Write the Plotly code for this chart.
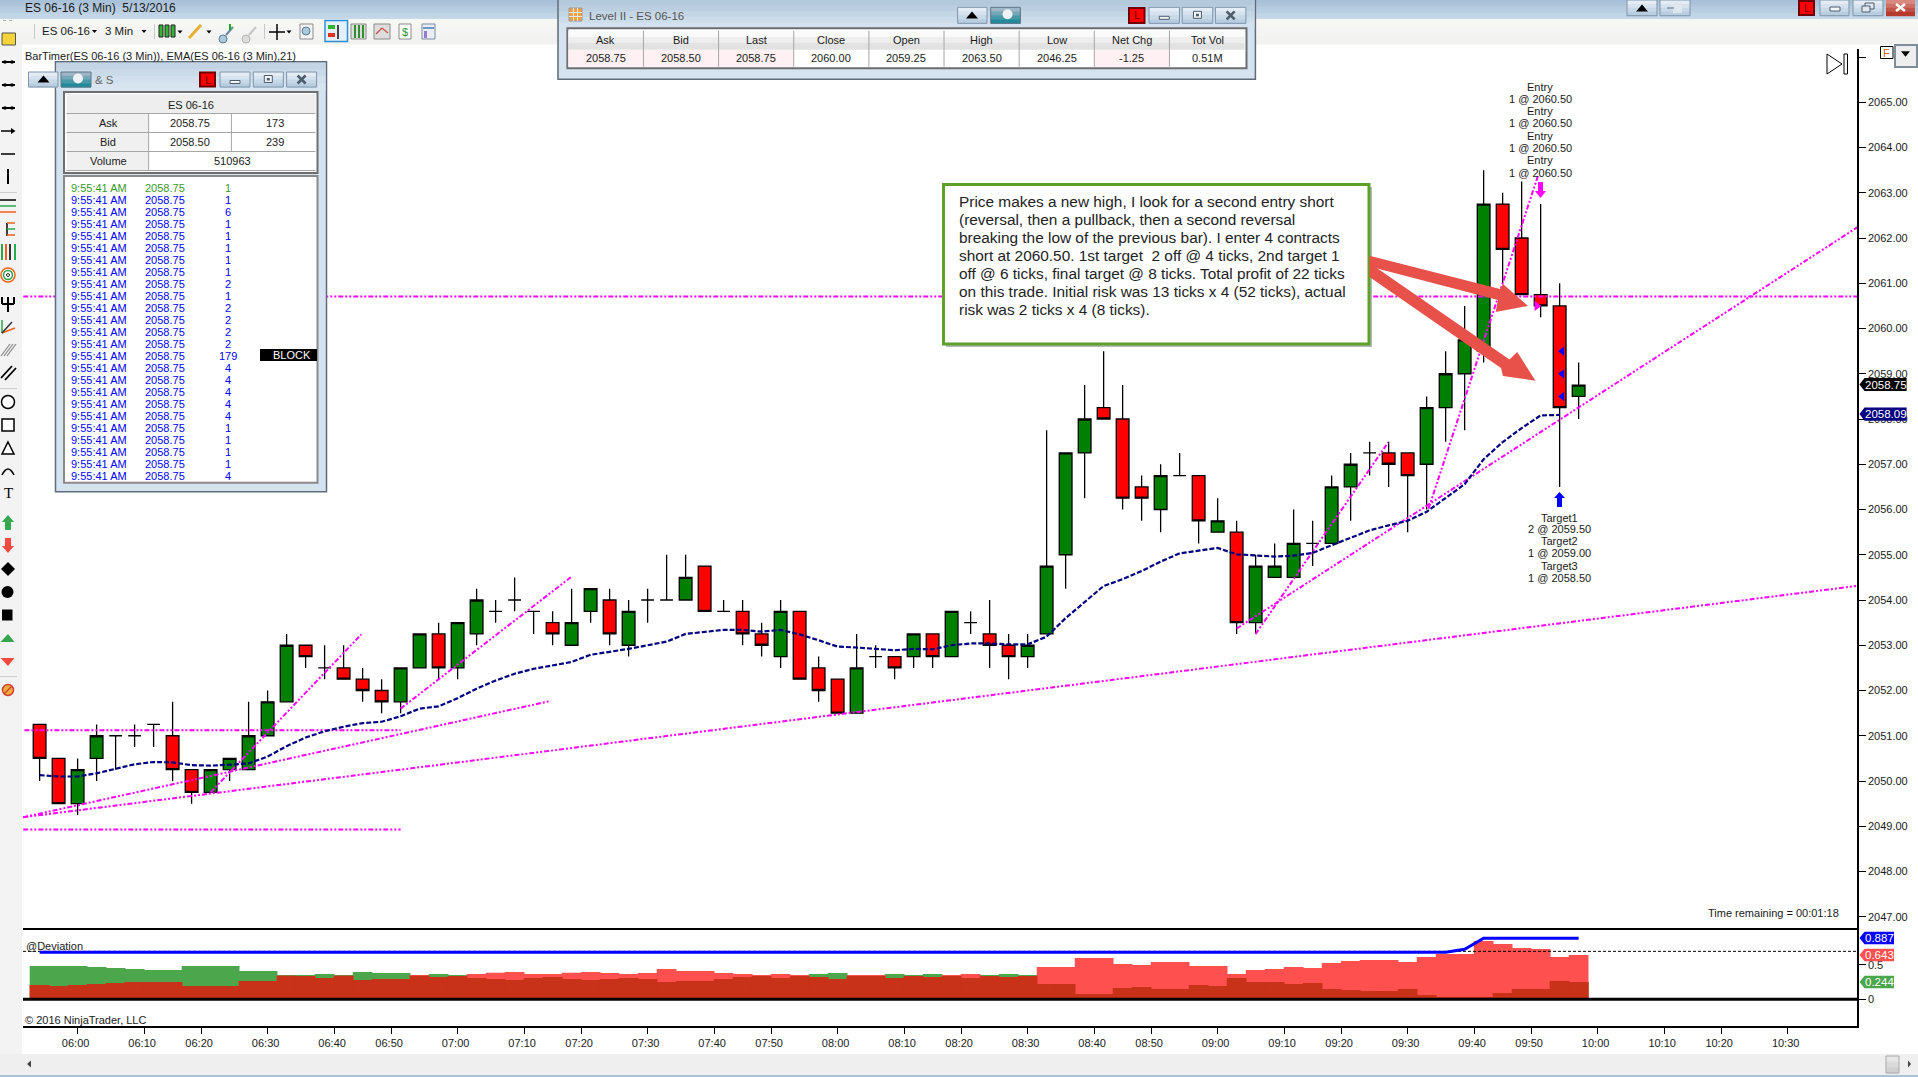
import numpy as np
import plotly.graph_objects as go
from plotly.subplots import make_subplots

W, H = 1918, 1077
FONT = "Liberation Sans"

# --------------------------
# Chart data (one entry per 3 min bar, first bar is 05:54)
# --------------------------
opens = [2051.25, 2050.5, 2049.5, 2050.5, 2051, 2051, 2051.25, 2051, 2050.25, 2049.75,
         2050.25, 2050.25, 2051, 2051.75, 2053, 2052.5, 2052.5, 2052.25, 2052, 2051.75,
         2052.5, 2053.25, 2052.5, 2053.25, 2053.75, 2054, 2053.75, 2053.5, 2053, 2053.75,
         2054, 2053, 2054, 2054, 2054, 2054.75, 2053.75, 2053.75, 2053.25, 2052.75,
         2053.75, 2052.5, 2052.25, 2051.5, 2052.75, 2052.75, 2052.75, 2053.25, 2052.75, 2053.5,
         2053.25, 2053, 2052.75, 2053.25, 2055, 2057.25, 2058.25, 2058, 2056.5, 2056,
         2056.75, 2056.75, 2055.5, 2055.5, 2053.5, 2054.5, 2054.5, 2055.25, 2055.25, 2056.5,
         2057.25, 2057.25, 2057.25, 2057, 2058.25, 2059, 2059.5, 2062.75, 2062, 2060.75,
         2060.5, 2058.5]
highs = [2051.25, 2050.5, 2050.5, 2051.25, 2051, 2051.25, 2051.25, 2051.75, 2050.25, 2050.25,
         2050.5, 2051.75, 2052, 2053.25, 2053, 2053, 2053, 2052.5, 2052.25, 2052.5,
         2053.25, 2053.5, 2053.5, 2054.25, 2054, 2054.5, 2053.75, 2053.75, 2054.25, 2054.25,
         2054.25, 2054, 2054.25, 2055, 2055, 2054.75, 2054, 2054, 2053.5, 2054,
         2053.75, 2052.75, 2052.25, 2053.25, 2053, 2052.75, 2053.25, 2053.25, 2053.75, 2053.75,
         2054, 2053.25, 2053.25, 2057.75, 2057.25, 2058.75, 2059.5, 2058.75, 2056.75, 2057,
         2057.25, 2056.75, 2056.25, 2055.75, 2055, 2055.25, 2056, 2055.75, 2056.75, 2057.25,
         2057.5, 2057.5, 2057.25, 2058.5, 2059.5, 2060.5, 2063.5, 2063, 2063.25, 2062.75,
         2061, 2059.25]
lows = [2050, 2049.5, 2049.25, 2050, 2050.25, 2050.75, 2050.75, 2050, 2049.5, 2049.75,
        2050, 2050.25, 2051, 2051.75, 2052.5, 2052.25, 2052.25, 2051.75, 2051.5, 2051.5,
        2052.5, 2052.25, 2052.25, 2053, 2053.5, 2053.75, 2053.25, 2053, 2053, 2053.5,
        2053, 2052.75, 2053.5, 2054, 2054, 2053.75, 2053.75, 2053, 2052.75, 2052.5,
        2052.25, 2051.75, 2051.5, 2051.5, 2052.5, 2052.25, 2052.5, 2052.5, 2052.75, 2053.25,
        2052.5, 2052.25, 2052.5, 2053.25, 2054.25, 2056.25, 2058, 2056, 2055.75, 2055.5,
        2056.75, 2055.25, 2055.5, 2053.25, 2053.25, 2054.5, 2054.5, 2054.75, 2055.25, 2055.75,
        2056.75, 2056.5, 2055.5, 2056, 2057.5, 2057.75, 2059.25, 2061, 2060.75, 2060.25,
        2056.5, 2058]
closes = [2050.5, 2049.5, 2050.25, 2051, 2051, 2051, 2051.25, 2050.25, 2049.75, 2050.25,
          2050.5, 2051, 2051.75, 2053, 2052.75, 2052.5, 2052.25, 2052, 2051.75, 2052.5,
          2053.25, 2052.5, 2053.5, 2054, 2053.75, 2054, 2053.75, 2053.25, 2053.5, 2054.25,
          2053.25, 2053.75, 2054, 2054, 2054.5, 2053.75, 2053.75, 2053.25, 2053, 2053.75,
          2052.25, 2052, 2051.5, 2052.5, 2052.75, 2052.5, 2053.25, 2052.75, 2053.75, 2053.5,
          2053, 2052.75, 2053, 2054.75, 2057.25, 2058, 2058, 2056.25, 2056.25, 2056.75,
          2056.75, 2055.75, 2055.75, 2053.5, 2054.75, 2054.75, 2055.25, 2055.25, 2056.5, 2057,
          2057.25, 2057, 2056.75, 2058.25, 2059, 2059.75, 2062.75, 2061.75, 2060.75, 2060.5,
          2058.25, 2058.75]
ema21 = [2050.13, 2050.1, 2050.1, 2050.17, 2050.27, 2050.37, 2050.42, 2050.41, 2050.35, 2050.34,
         2050.36, 2050.39, 2050.54, 2050.77, 2050.96, 2051.1, 2051.2, 2051.28, 2051.31, 2051.43,
         2051.6, 2051.65, 2051.83, 2052.04, 2052.22, 2052.37, 2052.48, 2052.55, 2052.63, 2052.79,
         2052.85, 2052.92, 2053.0, 2053.08, 2053.25, 2053.3, 2053.34, 2053.34, 2053.3, 2053.34,
         2053.24, 2053.11, 2052.97, 2052.95, 2052.92, 2052.89, 2052.92, 2052.91, 2053.0, 2053.04,
         2053.04, 2053.02, 2053.02, 2053.19, 2053.6, 2053.96, 2054.31, 2054.46, 2054.64, 2054.85,
         2055.03, 2055.09, 2055.15, 2055.01, 2054.99, 2054.96, 2054.98, 2055.04, 2055.21, 2055.37,
         2055.54, 2055.65, 2055.75, 2055.95, 2056.26, 2056.56, 2057.11, 2057.49, 2057.8, 2058.08,
         2058.09]

dev_green = [.484, .484, .484, .469, .455, .44, .426, .426, .484, .484,
             .484, .411, .411, .353, .353, .368, .353, .397, .382, .382,
             .344, .368, .353, .31, .295, .28, .31, .324, .295, .28,
             .295, .31, .295, .251, .266, .266, .295, .324, .339, .31,
             .339, .368, .382, .339, .339, .368, .353, .368, .339, .31,
             .353, .368, .353, .222, .222, .077, .077, .164, .179, .15,
             .15, .208, .193, .31, .251, .251, .222, .237, .15, .135,
             .121, .121, .15, .063, .033, .033, .033, .092, .15, .15,
             .266, .251]
dev_red = [.208, .193, .208, .222, .237, .251, .251, .251, .193, .193,
           .193, .266, .266, .344, .339, .31, .344, .28, .295, .295,
           .353, .324, .339, .368, .387, .397, .368, .368, .387, .397,
           .382, .368, .382, .44, .411, .411, .382, .368, .353, .368,
           .353, .324, .295, .353, .353, .31, .339, .324, .353, .368,
           .339, .324, .339, .47, .47, .6, .6, .513, .499, .542,
           .542, .484, .484, .368, .426, .44, .47, .455, .528, .557,
           .571, .571, .542, .615, .658, .658, .847, .804, .746, .731,
           .615, .644]
dev_line = [.683] * 75 + [.727] + [.887] * 6

tick_labels = ["06:00", "06:10", "06:20", "06:30", "06:40", "06:50", "07:00", "07:10", "07:20", "07:30",
               "07:40", "07:50", "08:00", "08:10", "08:20", "08:30", "08:40", "08:50", "09:00", "09:10",
               "09:20", "09:30", "09:40", "09:50", "10:00", "10:10", "10:20", "10:30"]
tick_bars = [2, 5.5, 8.5, 12, 15.5, 18.5, 22, 25.5, 28.5, 32,
             35.5, 38.5, 42, 45.5, 48.5, 52, 55.5, 58.5, 62, 65.5,
             68.5, 72, 75.5, 78.5, 82, 85.5, 88.5, 92]
price_ticks = list(range(2047, 2067))

# drawn trend lines: (bar, price) -> (bar, price)
draw_lines = [
    ((-0.86, 2060.71), (95.65, 2060.71)),
    ((-0.8, 2051.12), (19, 2051.12)),
    ((-0.86, 2048.93), (19, 2048.93)),
    ((-0.86, 2049.2), (95.6, 2054.31)),
    ((-0.86, 2049.2), (26.9, 2051.77)),
    ((9, 2049.75), (16.93, 2053.24)),
    ((19, 2051.6), (27.95, 2054.5)),
    ((63, 2053.37), (95.68, 2062.24)),
    ((64, 2053.25), (70.97, 2057.48)),
    ((73.1, 2056.02), (78.88, 2063.4)),
]
entry_labels = ["Entry", "1 @ 2060.50"] * 4
target_labels = ["Target1", "2 @ 2059.50", "Target2", "1 @ 2059.00", "Target3", "1 @ 2058.50"]
target_prices = [2059.5, 2059.0, 2058.5]

callout_lines = [
    "Price makes a new high, I look for a second entry short",
    "(reversal, then a pullback, then a second reversal",
    "breaking the low of the previous bar). I enter 4 contracts",
    "short at 2060.50. 1st target  2 off @ 4 ticks, 2nd target 1",
    "off @ 6 ticks, final target @ 8 ticks. Total profit of 22 ticks",
    "on this trade. Initial risk was 13 ticks x 4 (52 ticks), actual",
    "risk was 2 ticks x 4 (8 ticks).",
]

level2_heads = ["Ask", "Bid", "Last", "Close", "Open", "High", "Low", "Net Chg", "Tot Vol"]
level2_vals = ["2058.75", "2058.50", "2058.75", "2060.00", "2059.25", "2063.50", "2046.25", "-1.25", "0.51M"]
level2_pink = [True, True, True, False, False, False, False, True, False]

ts_qty = [1, 1, 6, 1, 1, 1, 1, 1, 2, 1, 2, 2, 2, 2, 179, 4, 4, 4, 4, 4, 1, 1, 1, 1, 4]

# --------------------------
# Helpers for the window chrome, all in screen pixels
# --------------------------
shapes = []
notes = []


def rect(x0, y0, x1, y1, fill, line=None, lw=1):
    shapes.append(dict(type="rect", xref="paper", yref="paper", layer="above",
                       x0=x0 / W, x1=x1 / W, y0=1 - y0 / H, y1=1 - y1 / H, fillcolor=fill,
                       line=dict(color=line or fill, width=lw if line else 0)))


def seg(x0, y0, x1, y1, color="black", lw=1, dash=None):
    shapes.append(dict(type="line", xref="paper", yref="paper", layer="above",
                       x0=x0 / W, x1=x1 / W, y0=1 - y0 / H, y1=1 - y1 / H,
                       line=dict(color=color, width=lw, dash=dash)))


def poly(points, fill, line=None, lw=1):
    path = "M" + " L".join(f"{x / W:.5f},{1 - y / H:.5f}" for x, y in points) + " Z"
    shapes.append(dict(type="path", xref="paper", yref="paper", layer="above", path=path,
                       fillcolor=fill, line=dict(color=line or fill, width=lw if line else 0)))


def circle(cx, cy, r, fill, line=None, lw=1):
    shapes.append(dict(type="circle", xref="paper", yref="paper", layer="above",
                       x0=(cx - r) / W, x1=(cx + r) / W, y0=1 - (cy - r) / H, y1=1 - (cy + r) / H,
                       fillcolor=fill, line=dict(color=line or fill, width=lw if line else 0)))


def text(s, x, y, size=11, color="#1a1a1a", anchor="left", font=FONT):
    notes.append(dict(text=s, xref="paper", yref="paper", x=x / W, y=1 - y / H, showarrow=False,
                      xanchor=anchor, yanchor="middle", borderpad=0, borderwidth=0,
                      font=dict(family=font, size=size, color=color)))


def mix(c0, c1, t):
    a = [int(c0[i:i + 2], 16) for i in (1, 3, 5)]
    b = [int(c1[i:i + 2], 16) for i in (1, 3, 5)]
    return "#" + "".join(f"{round(p + (q - p) * t):02x}" for p, q in zip(a, b))


def grad(x0, y0, x1, y1, c0, c1, steps=6):
    for i in range(steps):
        rect(x0, y0 + (y1 - y0) * i / steps, x1, y0 + (y1 - y0) * (i + 1) / steps + 0.5,
             mix(c0, c1, i / max(steps - 1, 1)))


def button(x0, y0, x1, y1):
    grad(x0, y0, x1, y1, "#e4edf5", "#b9cde0", 4)
    rect(x0, y0, x1, y1, "rgba(0,0,0,0)", "#7f95ac", 1)


def tri_up(cx, cy, s, color="black"):
    poly([(cx - s, cy + s * 0.6), (cx + s, cy + s * 0.6), (cx, cy - s * 0.6)], color)


def tri_down(cx, cy, s, color="black"):
    poly([(cx - s, cy - s * 0.6), (cx + s, cy - s * 0.6), (cx, cy + s * 0.6)], color)


def pin(x0, y0, x1, y1):
    grad(x0, y0, x1, y1, "#9fb6c6", "#1f8a9a", 4)
    rect(x0, y0, x1, y1, "rgba(0,0,0,0)", "#5f7688", 1)
    circle((x0 + x1) / 2 + 2, (y0 + y1) / 2 - 1, 5, "#eef2f4")


def lamp(x0, y0, x1, y1):
    rect(x0, y0, x1, y1, "#ff0000", "#700000", 2)
    text("L", (x0 + x1) / 2, (y0 + y1) / 2, 11, "#700000", "center")


def win_buttons(x0, y0, x1, y1, step_w, gap):
    for i, mark in enumerate(["min", "max", "close"]):
        bx = x0 + i * (step_w + gap)
        button(bx, y0, bx + step_w, y1)
        cx, cy = bx + step_w / 2, (y0 + y1) / 2
        if mark == "min":
            rect(cx - 5, cy + 1, cx + 5, cy + 4, "#f3f6f9", "#4e5d6c", 1)
        elif mark == "max":
            rect(cx - 4, cy - 4, cx + 4, cy + 3, "#f3f6f9", "#4e5d6c", 1)
            rect(cx - 1.5, cy - 1.5, cx + 1.5, cy + 1, "#4e5d6c")
        else:
            seg(cx - 4, cy - 4, cx + 4, cy + 4, "#4e5d6c", 2.5)
            seg(cx - 4, cy + 4, cx + 4, cy - 4, "#4e5d6c", 2.5)


# --------------------------
# Chart
# --------------------------
bars = list(range(len(opens)))
x_range = [-0.874, 95.65]

fig = make_subplots(rows=2, cols=1, shared_xaxes=True, vertical_spacing=0)

fig.add_trace(go.Candlestick(x=bars, open=opens, high=highs, low=lows, close=closes,
                             increasing=dict(fillcolor="#008000", line=dict(color="black", width=1.3)),
                             decreasing=dict(fillcolor="#ff0000", line=dict(color="black", width=1.3)),
                             whiskerwidth=0), row=1, col=1)

for (x0, y0), (x1, y1) in draw_lines:
    fig.add_trace(go.Scatter(x=[x0, x1], y=[y0, y1], mode="lines",
                             line=dict(color="#ff00ff", width=2, dash="5px,2px,2px,2px,2px,2px")),
                  row=1, col=1)

fig.add_trace(go.Scatter(x=bars[:len(ema21)], y=ema21, mode="lines",
                         line=dict(color="#000080", width=2.2, dash="5px,2px")), row=1, col=1)

fig.add_trace(go.Scatter(x=[80.13] * 3, y=target_prices, mode="markers",
                         marker=dict(symbol="triangle-left", size=8, color="#0000ff")), row=1, col=1)
fig.add_trace(go.Scatter(x=[78.8], y=[2060.5], mode="markers",
                         marker=dict(symbol="triangle-right", size=9, color="#ff00ff")), row=1, col=1)

# deviation pane: overlap of the two series shows as dark red
dev_overlap = np.minimum(dev_green, dev_red)
for values, color in [(dev_green, "#4ca64c"), (dev_red, "#ff5050"), (dev_overlap, "#c83218")]:
    fig.add_trace(go.Bar(x=bars, y=values, width=1.04, marker=dict(color=color, line=dict(width=0))),
                  row=2, col=1)
fig.add_trace(go.Scatter(x=[x_range[0], x_range[1]], y=[.697, .697], mode="lines",
                         line=dict(color="black", width=1, dash="3px,2px")), row=2, col=1)
fig.add_trace(go.Scatter(x=bars, y=dev_line, mode="lines",
                         line=dict(color="#0000ff", width=3)), row=2, col=1)

X_DOM = [23 / W, 1857 / W]
fig.update_xaxes(range=x_range, domain=X_DOM, rangeslider_visible=False, showgrid=False, zeroline=False)
fig.update_xaxes(showline=True, linecolor="black", linewidth=1.5, showticklabels=False, ticks="", row=1, col=1)
fig.update_xaxes(showline=True, linecolor="black", linewidth=1.5, ticks="outside", ticklen=6, tickwidth=1,
                 tickcolor="black", tickmode="array", tickvals=tick_bars, ticktext=tick_labels,
                 ticklabelshift=-2, tickfont=dict(family=FONT, size=11, color="#1a1a1a"), row=2, col=1)

price_text = [f"{p}.00" if p != 2066 else "" for p in price_ticks]
fig.update_yaxes(side="right", showgrid=False, zeroline=False, showline=True, linecolor="black", linewidth=1.5,
                 ticks="outside", ticklen=7, tickwidth=1, tickcolor="black",
                 tickfont=dict(family=FONT, size=11, color="#1a1a1a"))
fig.update_yaxes(domain=[1 - 928.3 / H, 1 - 49 / H], range=[2046.745, 2066.177], tickmode="array",
                 tickvals=price_ticks, ticktext=price_text, row=1, col=1)
fig.update_yaxes(domain=[1 - 1026 / H, 1 - 928.3 / H], range=[-0.388, 1.032], tickmode="array",
                 tickvals=[0, 0.5], ticktext=["0", "0.5"], row=2, col=1)

# zero line of the deviation pane
shapes.append(dict(type="line", xref="paper", yref="y2", layer="above", x0=X_DOM[0], x1=X_DOM[1], y0=0, y1=0,
                   line=dict(color="black", width=3)))

# --------------------------
# Chart texts and price markers
# --------------------------
text("BarTimer(ES 06-16 (3 Min)), EMA(ES 06-16 (3 Min),21)", 25, 56)
text("@Deviation", 25.5, 946)
text("© 2016 NinjaTrader, LLC", 25, 1020)
text("Time remaining = 00:01:18", 1708, 913)
for i, s in enumerate(entry_labels):
    text(s, 1540.4, [87, 99, 111, 123, 136, 148, 160, 173][i], 11, "#1a1a1a", "center")
for i, s in enumerate(target_labels):
    text(s, 1559.5, [517.5, 529, 541.4, 553, 566.4, 578][i], 11, "#1a1a1a", "center")

poly([(1538, 182), (1543, 182), (1543, 191), (1546, 191), (1540.5, 198), (1535, 191), (1538, 191)], "#ff00ff")
poly([(1557, 507), (1562, 507), (1562, 498), (1565, 498), (1559.5, 492), (1554, 498), (1557, 498)], "#0000ff")

for label, y0, y1, fill, x1, size in [("2058.75", 378, 391, "#000000", 1906.6, 11.5),
                                      ("2058.09", 407.5, 420.7, "#000080", 1906.6, 11.5),
                                      ("0.887", 931.7, 944.3, "#0000ff", 1894, 11.5),
                                      ("0.643", 948.7, 961.3, "#ff5050", 1894, 11.5),
                                      ("0.244", 975.7, 988.3, "#4ca64c", 1894, 11.5)]:
    ym = (y0 + y1) / 2
    poly([(1859.5, ym), (1864.5, y0), (x1, y0), (x1, y1), (1864.5, y1)], fill)
    text(label, (1865 + x1) / 2, ym, size, "white", "center")

# callout with arrows
rect(946, 187, 1372, 347, "#b8b8b8")
rect(943.5, 184.5, 1369, 344, "white", "#5fa02a", 3)
for i, s in enumerate(callout_lines):
    text(s, 959, 201.7 + 18 * i, 15.4, "#222222")
poly([(1369.5, 255.7), (1500, 289), (1503, 284), (1528, 306), (1495.6, 312), (1498, 300), (1369.5, 266.4)], "#e8504a")
poly([(1369.5, 263), (1509.5, 359.5), (1517.2, 352), (1535.5, 380.7), (1503, 376), (1501, 368), (1369.5, 277)], "#e8504a")

# --------------------------
# Main window frame
# --------------------------
grad(0, 0, W, 19, "#a8c0d8", "#c4d8e8", 8)
grad(0, 19, W, 44, "#f6f6f3", "#f2f2f0", 3)
rect(0, 44, 22, 1054, "#f3f3f3")
rect(0, 1054, W, 1075, "#efefef")
rect(0, 1075, W, H, "#a9c1d6")
text("ES 06-16 (3 Min)  5/13/2016", 24.5, 8, 12)

# top right buttons
button(1627, 0, 1657, 15.7)
tri_up(1642, 8, 6)
button(1660, 0, 1690, 15.7)
rect(1673, 2, 1682, 13, "#dfe7ee")
seg(1667, 8, 1674, 8, "#7f95ac", 1.5)
lamp(1799, 1, 1814, 15)
button(1820, 0, 1849, 15.7)
rect(1830, 7, 1840, 11, "#f3f6f9", "#4e5d6c", 1)
button(1853, 0, 1883, 15.7)
rect(1865, 3, 1874, 9, "#dfe7ee", "#4e5d6c", 1)
rect(1862, 6, 1870, 12, "#dfe7ee", "#4e5d6c", 1)
grad(1886, 0, 1915, 15.7, "#d98a80", "#b5392c", 4)
seg(1896, 4, 1905, 11, "white", 2.5)
seg(1896, 11, 1905, 4, "white", 2.5)

# chart corner controls
poly([(1827, 54), (1842, 64), (1827, 74)], "white", "black", 1)
rect(1844, 54, 1847.5, 74, "white", "black", 1)
rect(1880.5, 46.5, 1893, 58.5, "white", "black", 1)
text("F", 1886.5, 52.5, 11, "#c96a1a", "center")
rect(1895, 45, 1917, 67, "#eeeeee", "#7f8c99", 2)
tri_down(1905.5, 54, 4.5)

# top toolbar
text("ES 06-16", 42, 30.7, 11.5)
tri_down(94.5, 31.5, 2.5)
text("3 Min", 105, 30.7, 11.5)
tri_down(144, 31.5, 2.5)
seg(34.5, 24, 34.5, 39, "#c8c8c8", 1)
seg(154.5, 24, 154.5, 39, "#c8c8c8", 1)
seg(264.5, 24, 264.5, 39, "#c8c8c8", 1)
for cx in (161, 167, 173):
    rect(cx - 2, 25, cx + 2, 37, "#33b533", "#222222", 1)
tri_down(180, 32, 2.5)
seg(189, 38, 201, 25, "#e8b030", 3)
tri_down(209, 32, 2.5)
circle(223, 39, 4, "#a9c9dc", "#5a7f99", 1)
seg(226, 35, 233, 27, "#6a8ba3", 2)
seg(230, 24, 230, 30, "#22aa22", 2)
circle(246, 39, 4, "#dddddd", "#b5b5b5", 1)
seg(249, 35, 256, 27, "#c5c5c5", 2)
seg(277, 24, 277, 40, "black", 1.5)
seg(269, 32, 285, 32, "black", 1.5)
tri_down(289, 32, 2.5)
rect(300, 24, 313, 39, "#f4f4f4", "#8a8a8a", 1)
circle(306, 31, 4, "#a9c9dc", "#5a7f99", 1)
rect(325, 20.5, 347.5, 41.5, "#e2f0fb", "#2f8fd6", 1.5)
rect(328, 25, 335, 29, "#33b533")
rect(328, 33, 335, 37, "#e03020")
seg(338, 25, 338, 39, "#444444", 2)
rect(351, 24, 366, 39, "#dddddd", "#8a8a8a", 1)
for cx in (355, 359, 363):
    seg(cx, 25, cx, 38, "#2f8f2f", 2)
rect(374, 24, 390, 39, "#dddddd", "#8a8a8a", 1)
seg(376, 34, 382, 28, "#d05040", 1.2)
seg(382, 28, 388, 33, "#d05040", 1.2)
rect(399, 24, 411, 39, "white", "#8a8a8a", 1)
text("$", 405, 31.5, 11, "#2f8f2f", "center")
rect(422, 24, 435, 39, "#e9eef5", "#7a8aa5", 1)
rect(423, 27, 434, 29, "#6a9ac5")
rect(424, 31, 427, 38, "#9a7ad0")

# left drawing tools
seg(3, 20.5, 14, 20.5, "#aaaaaa", 1, "dot")
rect(2, 33, 15.5, 45, "#f5d33b", "#555555", 1)
for y in (62, 85, 108):
    seg(2, y, 15, y, "black", 2)
    circle(5, y, 1.8, "black")
    circle(12, y, 1.8, "black")
seg(1, 131, 14, 131, "black", 1.5)
poly([(11, 128), (15.5, 131), (11, 134)], "black")
seg(1, 154, 15, 154, "black", 1.5)
seg(8, 169, 8, 184, "black", 2)
seg(0, 192.5, 17, 192.5, "#cccccc", 1)
seg(0, 200, 16, 200, "black", 1.5)
seg(0, 206, 16, 206, "#2aa84a", 1.5)
seg(0, 212, 16, 212, "#f06020", 1.5)
seg(7, 223, 7, 236, "black", 1.5)
seg(7, 223, 15, 223, "#f06020", 1.5)
seg(7, 229, 15, 229, "#2aa84a", 1.5)
seg(7, 235, 15, 235, "#f06020", 1.5)
for cx, c in [(2, "#2aa84a"), (6, "#f06020"), (10, "#333333"), (15, "#2aa84a")]:
    seg(cx, 244, cx, 260, c, 2)
circle(8, 275, 7, "white", "#f06020", 1.5)
circle(8, 275, 4.5, "white", "#2aa84a", 1.5)
circle(8, 275, 1.5, "white", "#333333", 1)
seg(8, 297, 8, 312, "black", 2)
seg(2, 297, 2, 304, "black", 2)
seg(14, 297, 14, 304, "black", 2)
seg(2, 304, 14, 304, "black", 2)
seg(2, 320, 2, 333, "#2aa84a", 1.5)
seg(2, 333, 15, 328, "#f06020", 1.5)
seg(2, 333, 12, 322, "#333333", 1.5)
for d in (0, 3, 6):
    seg(1 + d, 356, 10 + d, 344, "#888888", 1.2)
seg(1, 378, 12, 366, "black", 1.8)
seg(5, 380, 16, 368, "black", 1.8)
seg(0, 388.5, 17, 388.5, "#cccccc", 1)
circle(8, 402, 6.5, "white", "black", 1.5)
rect(2, 419, 14, 431, "white", "black", 1.5)
poly([(8, 442), (14, 454), (2, 454)], "white", "black", 1.5)
shapes.append(dict(type="path", xref="paper", yref="paper", layer="above",
                   path=f"M{2 / W:.5f},{1 - 475 / H:.5f} Q{8 / W:.5f},{1 - 463 / H:.5f} {14 / W:.5f},{1 - 475 / H:.5f}",
                   line=dict(color="black", width=1.5)))
text("T", 8, 493, 15, "black", "center", "Liberation Serif")
poly([(8, 515), (14, 522), (11, 522), (11, 530), (5, 530), (5, 522), (2, 522)], "#35a84f")
poly([(8, 553), (14, 546), (11, 546), (11, 538), (5, 538), (5, 546), (2, 546)], "#ee4a40")
poly([(8, 562), (15, 569), (8, 576), (1, 569)], "black")
circle(7.5, 592, 6, "black")
rect(2, 609.5, 12.5, 620.5, "black")
poly([(8, 634), (14.5, 642), (0.5, 642)], "#35a84f")
poly([(0.5, 658), (14.5, 658), (8, 666)], "#ee4a40")
seg(0, 676.5, 17, 676.5, "#cccccc", 1)
circle(8, 690, 5.5, "#f0b040", "#d04030", 1.5)
seg(4, 694, 12, 686, "#d04030", 1.5)

# bottom scrollbar
poly([(27, 1064), (31, 1060.5), (31, 1067.5)], "#444444")
grad(1886, 1056, 1899, 1073, "#e6e6e6", "#cfcfcf", 3)
rect(1886, 1056, 1899, 1073, "rgba(0,0,0,0)", "#aaaaaa", 1)
poly([(1911, 1064), (1908, 1060.5), (1908, 1067.5)], "#444444")

# --------------------------
# Time & Sales window
# --------------------------
rect(55.5, 61.7, 326.5, 491.7, "#d5e3f0", "#5f6b78", 1.5)
grad(56.5, 62.7, 325.5, 90, "#c3d5e5", "#d8e5f0", 4)
button(28.5, 72, 58, 87)
tri_up(43.5, 79, 6)
pin(61, 72, 91, 87)
text("& S", 95, 79.5, 11.5, "#666666")
lamp(200, 72.5, 215, 86.5)
win_buttons(220, 72, 250, 87, 30, 3.3)

rect(64, 92, 317.5, 173, "white", "#6e6e6e", 2)
rect(66.5, 94, 315.5, 113.5, "#eeeeee")
for y0, y1 in [(113.5, 132.5), (132.5, 151.5), (151.5, 170.5)]:
    rect(66.5, y0, 148.6, y1, "#f0f0f0")
for y in (113.5, 132.5, 151.5, 170.5):
    seg(66.5, y, 315.5, y, "#a6a6a6", 1)
seg(148.6, 113.5, 148.6, 170.5, "#a6a6a6", 1)
seg(231.4, 113.5, 231.4, 151.5, "#a6a6a6", 1)
text("ES 06-16", 191, 104.5, 11, anchor="center")
text("Ask", 108, 123, 11, anchor="center")
text("2058.75", 190, 123, 11, anchor="center")
text("173", 275, 123, 11, anchor="center")
text("Bid", 108, 142, 11, anchor="center")
text("2058.50", 190, 142, 11, anchor="center")
text("239", 275, 142, 11, anchor="center")
text("Volume", 108, 161, 11, anchor="center")
text("510963", 232, 161, 11, anchor="center")

rect(64, 176, 317.5, 482.7, "white", "#8a8a8a", 2)
for i, qty in enumerate(ts_qty):
    color = "#3a9a2a" if i == 0 else "#0000ff"
    y = 187.7 + 12 * i
    text("9:55:41 AM", 71, y, 11, color)
    text("2058.75", 145, y, 11, color)
    text(str(qty), 228, y, 11, color, "center")
rect(260, 349, 317, 361, "black")
text("BLOCK", 292, 355, 11, "white", "center")

# --------------------------
# Level II window
# --------------------------
rect(558, -1, 1255.4, 79.3, "#d5e3f0", "#5f6b78", 1.5)
grad(559, 0, 1254.4, 28, "#b4c9dc", "#d3e2ee", 5)
rect(569, 8, 582, 21, "#f0a040", "#9a9a9a", 1)
seg(569, 12.5, 582, 12.5, "#e8e8e8", 1)
seg(569, 16.5, 582, 16.5, "#e8e8e8", 1)
seg(573.5, 8, 573.5, 21, "#e8e8e8", 1)
seg(577.5, 8, 577.5, 21, "#e8e8e8", 1)
text("Level II - ES 06-16", 588.5, 15.7, 11.5, "#555555")
button(957.6, 7.3, 987, 23.3)
tri_up(972, 15, 6)
pin(990.7, 7.3, 1020.4, 23.3)
lamp(1129, 8, 1144.5, 23)
win_buttons(1149, 7.3, 1179.5, 23.3, 30.5, 2.7)

rect(567.4, 28.3, 1246.5, 68.3, "white", "#6e6e6e", 2)
level2_edges = np.linspace(568.3, 1244.6, len(level2_heads) + 1)
for i, head in enumerate(level2_heads):
    x0, x1 = level2_edges[i], level2_edges[i + 1]
    grad(x0, 30.7, x1, 49.3, "#fbfbfb", "#e2e2e2", 3)
    rect(x0, 50, x1, 66.7, "#fff0f3" if level2_pink[i] else "white")
    text(head, (x0 + x1) / 2, 40, 11, anchor="center")
    text(level2_vals[i], (x0 + x1) / 2, 58.5, 11, anchor="center")
    if i:
        seg(x0, 30.7, x0, 66.7, "#a6a6a6", 1)

fig.update_layout(width=W, height=H, margin=dict(l=0, r=0, t=0, b=0), showlegend=False,
                  paper_bgcolor="white", plot_bgcolor="white", barmode="overlay",
                  boxgap=0.33, boxgroupgap=0, shapes=shapes, annotations=notes)

fig.write_html("out.html", config={"displayModeBar": False},
               post_script="document.body.style.margin='0';document.body.style.overflow='hidden';")
